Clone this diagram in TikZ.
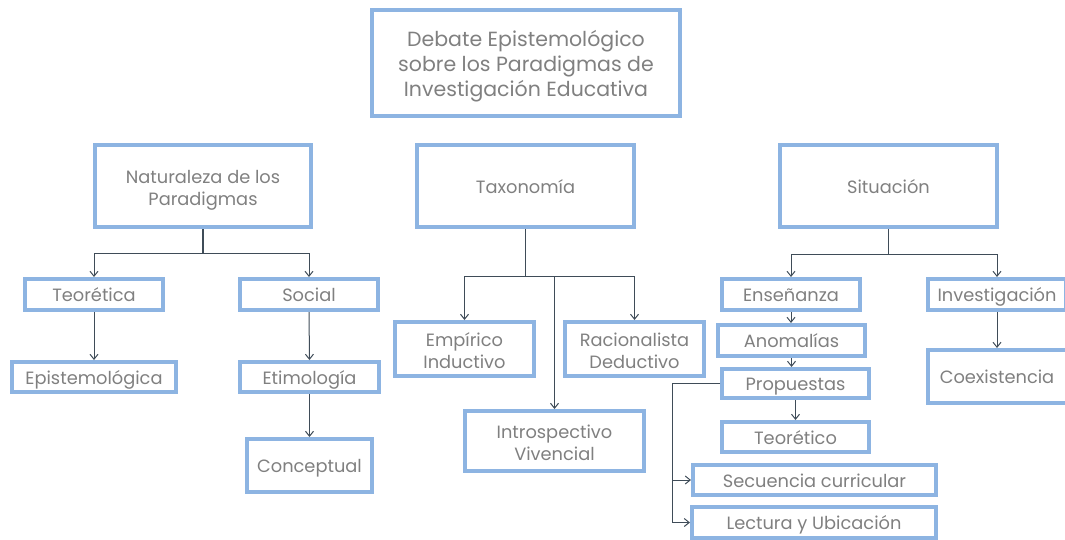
\documentclass[tikz,border=0pt]{standalone}
\usepackage{fontspec}
\setmainfont{Poppins}
\usetikzlibrary{arrows.meta}
\definecolor{boxblue}{HTML}{8DB4E2}
\definecolor{txtgray}{HTML}{808080}
\definecolor{linegray}{HTML}{3F4C58}
% invisible struts that fix the first-line height and last-line depth
\newcommand{\tstrut}{\rule{0pt}{22.8pt}}
\newcommand{\bstrut}{\rule[-6pt]{0pt}{0pt}}
\newcommand{\ttstrut}{\rule{0pt}{24.2pt}}
\newcommand{\tbstrut}{\rule[-7pt]{0pt}{0pt}}
\tikzset{
  basebox/.style={draw=boxblue, line width=3pt, fill=white, text=txtgray, align=center,
    inner sep=0pt, font=\fontsize{17.8}{22}\selectfont},
  box/.style={basebox,
    execute at begin node={\rule{0pt}{20.4pt}},
    execute at end node={\rule[-6pt]{0pt}{0pt}}},
  mbox/.style={basebox},
  titlebox/.style={basebox, font=\fontsize{20.5}{25.2}\selectfont},
  conn/.style={draw=linegray, line width=1pt},
  stem/.style={draw=linegray, line width=1.6pt},
  arr/.style={conn, -{Straight Barb[length=5pt,width=8pt]}},
}
\newcommand{\innerframe}[1]{%
  \draw[boxblue, line width=0.8pt] ([shift={(3.5pt,-3.5pt)}]#1.north west) rectangle ([shift={(-3.5pt,3.5pt)}]#1.south east);}
\begin{document}
\begin{tikzpicture}[x=1pt,y=-1pt]
\useasboundingbox (0,0) rectangle (1065,539);

% title
\node[titlebox, minimum width=309pt, minimum height=107pt]
  (title) at (526,63) {\ttstrut Debate Epistemológico\\sobre los Paradigmas de\\Investigación Educativa\tbstrut};

% first level
\node[mbox, minimum width=217pt, minimum height=83pt] (nat) at (203,186) {\tstrut Naturaleza de los\\Paradigmas\bstrut};
\node[box, minimum width=218pt, minimum height=83pt] (tax) at (525.5,186) {Taxonomía};
\node[box, minimum width=218pt, minimum height=83pt] (sit) at (888.5,186) {Situación};

% Naturaleza branch
\node[box, minimum width=139pt, minimum height=32pt] (teo) at (94,294.5) {Teorética};
\node[box, minimum width=139pt, minimum height=32pt] (soc) at (309,294.5) {Social};
\node[box, minimum width=165pt, minimum height=31pt] (epi) at (94,377) {Epistemológica};
\node[box, minimum width=140pt, minimum height=31pt] (eti) at (309.5,377) {Etimología};
\node[box, minimum width=126pt, minimum height=54pt] (con) at (309.5,465.5) {Conceptual};

% Taxonomia branch
\node[mbox, minimum width=140pt, minimum height=55pt] (emp) at (464.5,349) {\tstrut Empírico\\Inductivo\bstrut};
\node[mbox, minimum width=140pt, minimum height=55pt] (rac) at (634.5,349) {\tstrut Racionalista\\Deductivo\bstrut};
\node[mbox, minimum width=180pt, minimum height=61pt] (intro) at (554.5,441) {\tstrut Introspectivo\\Vivencial\bstrut};

% Situacion branch
\node[box, minimum width=139pt, minimum height=32pt] (ens) at (791,294.5) {Enseñanza};
\node[box, minimum width=148pt, minimum height=32pt] (ano) at (791.5,340.5) {Anomalías};
\node[box, minimum width=148pt, minimum height=30pt] (prop) at (795.5,383.5) {Propuestas};
\node[box, minimum width=148pt, minimum height=31pt] (teot) at (795.5,437) {Teorético};
\node[box, minimum width=244pt, minimum height=31pt] (sec) at (814.5,480) {Secuencia curricular};
\node[box, minimum width=245pt, minimum height=32pt] (lec) at (814,522.5) {Lectura y Ubicación};
\node[box, minimum width=139pt, minimum height=32pt] (inv) at (997,294.5) {Investigación};
\node[box, minimum width=140pt, minimum height=54pt] (coe) at (997,376.5) {Coexistencia};

\foreach \n in {title,nat,tax,sit,teo,soc,epi,eti,con,emp,rac,intro,ens,ano,prop,teot,sec,lec,inv,coe}
  {\innerframe{\n}}

% connectors: Naturaleza
\draw[stem] (nat.south) -- ++(0,24.5) coordinate (natbus);
\draw[arr] (natbus) -| (teo.north);
\draw[arr] (natbus) -| (soc.north);
\draw[arr] (teo.south) -- (epi.north);
\draw[arr] (soc.south) -- (eti.north);
\draw[arr] (eti.south) -- (con.north);

% connectors: Taxonomia
\draw[stem] (tax.south) -- ++(0,47.5) coordinate (taxbus);
\draw[arr] (taxbus) -| (emp.north);
\draw[arr] (taxbus) -| (rac.north);
\draw[arr] (intro.north |- taxbus) -- (intro.north);

% connectors: Situacion
\draw[stem] (sit.south) -- ++(0,25.5) coordinate (sitbus);
\draw[arr] (sitbus) -| (ens.north);
\draw[arr] (sitbus) -| (inv.north);
\draw[arr] (ens.south) -- (ano.north -| ens.south);
\draw[arr] (ano.south) -- (prop.north -| ano.south);
\draw[arr] (prop.south) -- (teot.north);
\draw[arr] (inv.south) -- (coe.north);

% connectors: Propuestas side branch
\draw[conn] (prop.west) -- ++(-48,0) coordinate (pk);
\draw[arr] (pk) |- (lec.west);
\draw[arr] (pk |- sec.west) -- (sec.west);
\end{tikzpicture}
\end{document}
